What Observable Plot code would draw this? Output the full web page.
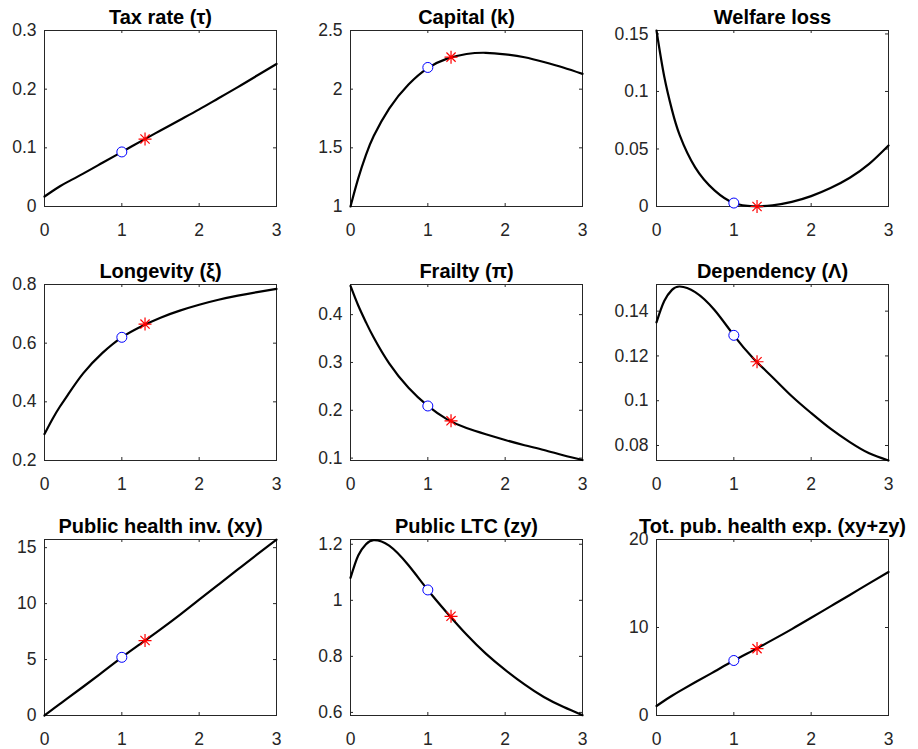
<!DOCTYPE html>
<html>
<head>
<meta charset="utf-8">
<script src="https://cdn.jsdelivr.net/npm/d3@7"></script>
<script src="https://cdn.jsdelivr.net/npm/@observablehq/plot@0.6"></script>
<style>
  html, body { margin: 0; padding: 0; background: white; }
  #fig { position: relative; width: 918px; height: 749px; overflow: hidden; background: white; }
  #fig svg { position: absolute; }
</style>
</head>
<body>
<div id="fig"></div>
<script>
// ---- data ----
const xs = [0, 0.1, 0.2, 0.3, 0.5, 0.75, 1, 1.25, 1.5, 1.75, 2, 2.25, 2.5, 2.75, 3];

const taxRate     = [0.017, 0.026, 0.0345, 0.042, 0.056, 0.0745, 0.093, 0.1115, 0.1295, 0.1475, 0.1655, 0.1845, 0.2035, 0.2232, 0.243];
const capital     = [1.0, 1.24, 1.44, 1.60, 1.835, 2.04, 2.18, 2.26, 2.30, 2.31, 2.297, 2.272, 2.232, 2.185, 2.13];
const welfareLoss = [0.153, 0.113, 0.084, 0.062, 0.034, 0.014, 0.003, 0.0002, 0.001, 0.004, 0.009, 0.016, 0.025, 0.037, 0.053];
const longevity   = [0.29, 0.34, 0.384, 0.423, 0.497, 0.567, 0.62, 0.657, 0.687, 0.711, 0.731, 0.748, 0.762, 0.774, 0.785];
const frailty     = [0.46, 0.419, 0.384, 0.352, 0.298, 0.247, 0.209, 0.181, 0.163, 0.150, 0.138, 0.127, 0.117, 0.106, 0.096];
const dependency  = [0.135, 0.1445, 0.1495, 0.151, 0.1485, 0.1405, 0.1292, 0.119, 0.1105, 0.102, 0.0945, 0.0875, 0.0815, 0.0765, 0.0733];
const publicHealthInv = [0, 0.52, 1.04, 1.55, 2.57, 3.88, 5.2, 6.45, 7.7, 9.0, 10.35, 11.7, 13.05, 14.4, 15.72];
const publicLTC   = [1.08, 1.16, 1.20, 1.215, 1.195, 1.125, 1.037, 0.955, 0.878, 0.81, 0.752, 0.70, 0.655, 0.62, 0.59];
const totPubHealth = [1.08, 1.68, 2.24, 2.77, 3.77, 5.0, 6.24, 7.4, 8.59, 9.82, 11.1, 12.4, 13.7, 15.02, 16.31];

const series = [taxRate, capital, welfareLoss, longevity, frailty, dependency, publicHealthInv, publicLTC, totPubHealth];

const titles = [
  "Tax rate (τ)", "Capital (k)", "Welfare loss",
  "Longevity (ξ)", "Frailty (π)", "Dependency (Λ)",
  "Public health inv. (xy)", "Public LTC (zy)", "Tot. pub. health exp. (xy+zy)"
];

const circleX = 1;
const circleY = [0.093, 2.185, 0.003, 0.62, 0.209, 0.1292, 5.2, 1.037, 6.25];
const starX = 1.3;
const starY = [0.115, 2.273, 0.0, 0.665, 0.178, 0.1174, 6.7, 0.943, 7.6];

const xTicks = [0, 1, 2, 3];
const xDomain = [0, 3];
const yTicks = [
  [0, 0.1, 0.2, 0.3], [1, 1.5, 2, 2.5], [0, 0.05, 0.1, 0.15],
  [0.2, 0.4, 0.6, 0.8], [0.1, 0.2, 0.3, 0.4], [0.08, 0.1, 0.12, 0.14],
  [0, 5, 10, 15], [0.6, 0.8, 1, 1.2], [0, 10, 20]
];
const yDomains = [
  [0, 0.3], [1, 2.5], [0, 0.153],
  [0.2, 0.8], [0.095, 0.463], [0.0733, 0.1519],
  [0, 15.73], [0.589, 1.217], [0, 20]
];

// ---- layout ----
const colLeft = [44, 350, 656];
const rowTop = [30, 284, 539];
const W = 232, H = 176;
const mL = 60, mR = 40, mT = 40, mB = 40;
const axisColor = "#262626";
const font = "'Liberation Sans', Arial, Helvetica, sans-serif";

// MATLAB-style 8-armed asterisk marker
const asterisk = {
  draw(context, size) {
    const r = Math.sqrt(size / Math.PI);
    const d = r * Math.SQRT1_2;
    context.moveTo(-r, 0); context.lineTo(r, 0);
    context.moveTo(0, -r); context.lineTo(0, r);
    context.moveTo(-d, -d); context.lineTo(d, d);
    context.moveTo(-d, d); context.lineTo(d, -d);
  }
};

const fig = document.getElementById("fig");

series.forEach((vals, i) => {
  const row = Math.floor(i / 3), col = i % 3;
  const data = xs.map((x, j) => ({x, y: vals[j]}));
  const yt = yTicks[i];
  const plot = Plot.plot({
    width: W + mL + mR,
    height: H + mT + mB,
    marginLeft: mL, marginRight: mR, marginTop: mT, marginBottom: mB,
    style: {background: "transparent", overflow: "visible", fontFamily: font, fontSize: "17.5px", color: axisColor},
    x: {domain: xDomain, label: null},
    y: {domain: yDomains[i], label: null},
    marks: [
      Plot.frame({stroke: axisColor, strokeWidth: 1}),
      Plot.ruleX(xTicks, {x: d => d, insetTop: H - 3, stroke: axisColor}),
      Plot.ruleX(xTicks, {x: d => d, insetBottom: H - 3, stroke: axisColor}),
      Plot.ruleY(yt, {y: d => d, insetRight: W - 3, stroke: axisColor}),
      Plot.ruleY(yt, {y: d => d, insetLeft: W - 3, stroke: axisColor}),
      Plot.axisX(xTicks, {tickSize: 0, tickPadding: 17, fontSize: 17.5, fontFamily: font, fill: axisColor, label: null}),
      Plot.axisY(yt, {tickSize: 0, tickPadding: 8, fontSize: 17.5, fontFamily: font, fill: axisColor, label: null, tickFormat: d => String(d)}),
      Plot.line(data, {x: "x", y: "y", curve: "natural", stroke: "black", strokeWidth: 2.2}),
      Plot.dot([{x: circleX, y: circleY[i]}], {x: "x", y: "y", r: 5, stroke: "#0000ff", fill: "white", strokeWidth: 1}),
      Plot.dot([{x: starX, y: starY[i]}], {x: "x", y: "y", r: 6.5, symbol: asterisk, stroke: "#ff0000", fill: "none", strokeWidth: 1.2}),
      Plot.text([titles[i]], {frameAnchor: "top", dy: -7, lineAnchor: "bottom", text: d => d, fontWeight: "bold", fontSize: 20, fontFamily: font, fill: "black"})
    ]
  });
  plot.style.left = (colLeft[col] - mL) + "px";
  plot.style.top = (rowTop[row] - mT) + "px";
  fig.appendChild(plot);
});
</script>
</body>
</html>
